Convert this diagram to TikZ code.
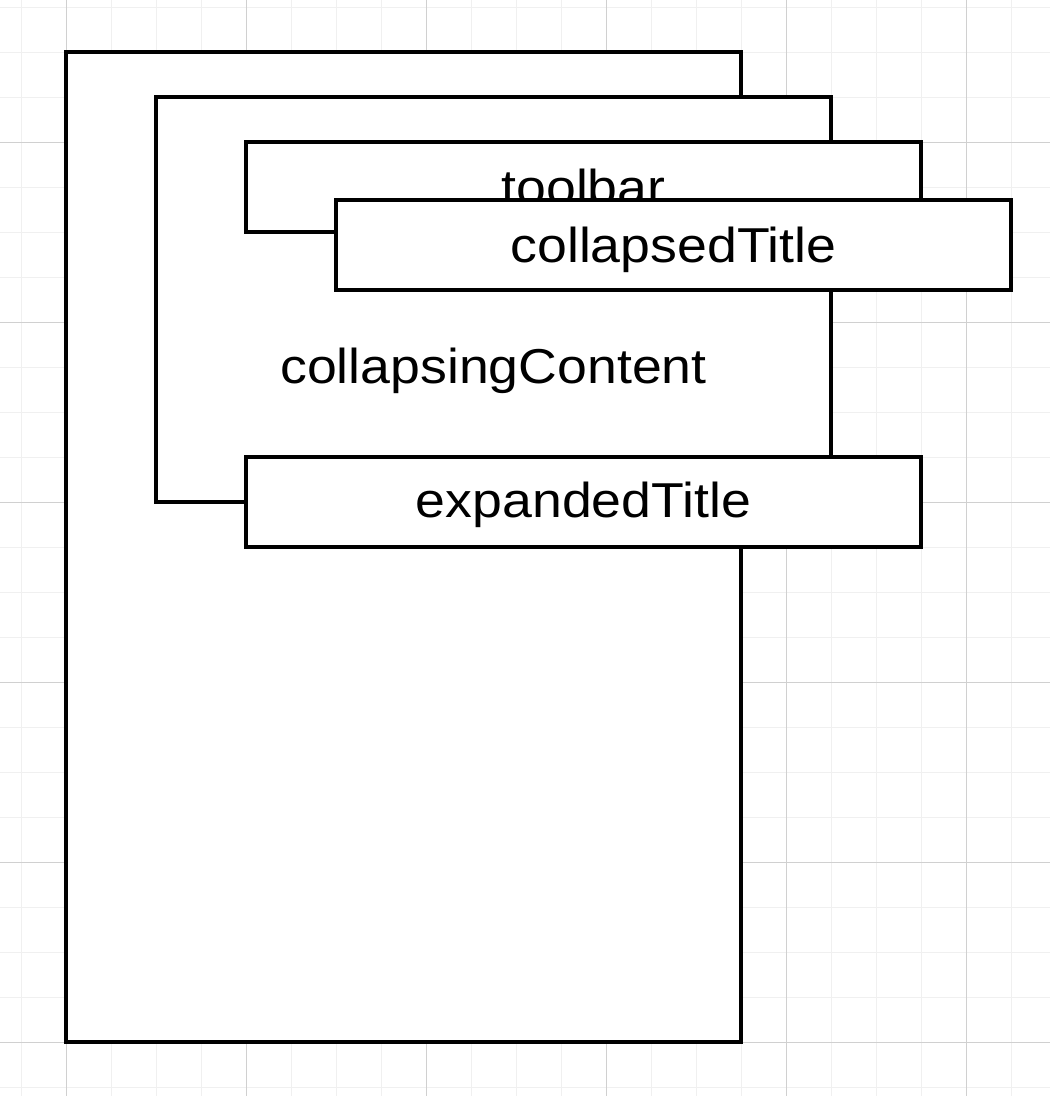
\documentclass[tikz,border=0pt]{standalone}
\usepackage{fontspec}
\newfontfamily\lblfont{Liberation Sans}[FakeStretch=1.095]
\definecolor{gridminor}{RGB}{240,240,240}
\definecolor{gridmajor}{RGB}{208,208,208}
\tikzset{
  box/.style={draw=black, fill=white, line width=3.5pt, rectangle, inner sep=0pt, outer sep=0pt, anchor=north west},
  lbl/.style={anchor=base, inner sep=0pt, font=\lblfont\fontsize{49}{55}\selectfont},
  minorline/.style={draw=gridminor, line width=1pt},
  majorline/.style={draw=gridmajor, line width=1pt}
}
\begin{document}
\begin{tikzpicture}[x=1pt,y=-1pt]
\useasboundingbox[fill=white] (0,0) rectangle (1050,1096);
% grid
\foreach \gx in {21,66,...,1050} \draw[minorline] (\gx,0) -- (\gx,1096);
\foreach \gy in {7,52,...,1096} \draw[minorline] (0,\gy) -- (1050,\gy);
\foreach \gx in {66,246,...,1050} \draw[majorline] (\gx,0) -- (\gx,1096);
\foreach \gy in {142,322,...,1096} \draw[majorline] (0,\gy) -- (1050,\gy);
% boxes
\node[box, minimum width=675pt, minimum height=990pt] (outer) at (66,52) {};
\node[box, minimum width=675pt, minimum height=405pt] (content) at (156,97) {};
\node[box, minimum width=675pt, minimum height=90pt] (toolbar) at (246,142) {};
\node[lbl] (toolbartext) at (583.5,204.5) {toolbar};
\node[box, minimum width=675pt, minimum height=90pt] (collapsed) at (336,200) {};
\node[lbl] (collapsedtext) at (673.5,262) {collapsedTitle};
\node[lbl] (contenttext) at (493.5,383) {collapsingContent};
\node[box, minimum width=675pt, minimum height=90pt] (expanded) at (246,457) {};
\node[lbl] (expandedtext) at (583.5,517) {expandedTitle};
\end{tikzpicture}
\end{document}
